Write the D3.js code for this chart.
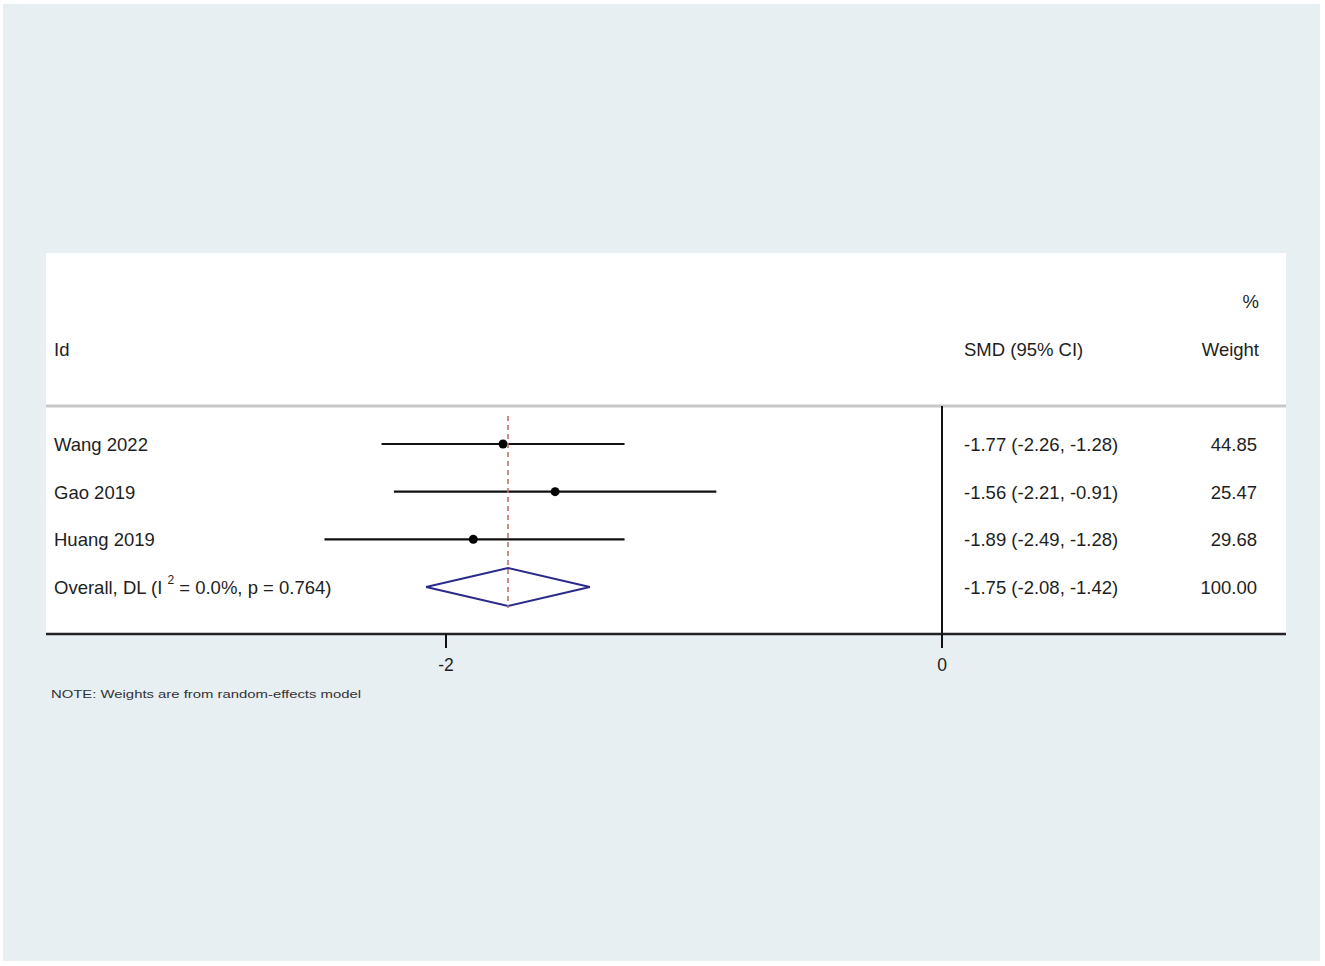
<!DOCTYPE html>
<html><head><meta charset="utf-8">
<script src="https://cdn.jsdelivr.net/npm/d3@7"></script>
<style>body{margin:0;background:#fff;} svg{display:block;font-family:"Liberation Sans",Arial,sans-serif;}</style>
</head><body>
<script>
const studies = ["Wang 2022", "Gao 2019", "Huang 2019"];
const est = [-1.77, -1.56, -1.89];
const lo = [-2.26, -2.21, -2.49];
const hi = [-1.28, -0.91, -1.28];
const ciText = ["-1.77 (-2.26, -1.28)", "-1.56 (-2.21, -0.91)", "-1.89 (-2.49, -1.28)"];
const weights = ["44.85", "25.47", "29.68"];
const overall = {est: -1.75, lo: -2.08, hi: -1.42, ci: "-1.75 (-2.08, -1.42)", w: "100.00"};
const xTicks = [-2, 0];

const W = 1325, H = 966;
const svg = d3.select("body").append("svg").attr("width", W).attr("height", H);
svg.append("rect").attr("x",3).attr("y",4).attr("width",1317).attr("height",957).attr("fill","#e8eff2");
svg.append("rect").attr("x",46).attr("y",253).attr("width",1240).attr("height",381).attr("fill","#fff");

const x = d3.scaleLinear().domain([-2, 0]).range([446, 942]);
const rows = studies.concat(["overall"]);
const y = d3.scalePoint().domain(rows).range([444, 587]);

const fs = 18.5;
const col = "#1e1e1e";
function txt(xx, yy, s, anchor) {
  return svg.append("text").attr("x",xx).attr("y",yy).attr("font-size",fs).attr("fill",col)
    .attr("text-anchor", anchor || "start").text(s);
}
// header
txt(54, 356, "Id");
txt(964, 356, "SMD (95% CI)");
txt(1259, 356, "Weight", "end");
txt(1259, 308, "%", "end");
// separator
svg.append("line").attr("x1",46).attr("x2",1286).attr("y1",406).attr("y2",406).attr("stroke","#c8c8c8").attr("stroke-width",3);
// null line
svg.append("line").attr("x1",x(0)).attr("x2",x(0)).attr("y1",406).attr("y2",634).attr("stroke","#111").attr("stroke-width",2);

// study rows
studies.forEach((s,i)=>{
  const yy = y(s);
  txt(54, yy+7, s);
  svg.append("line").attr("x1",x(lo[i])).attr("x2",x(hi[i])).attr("y1",yy).attr("y2",yy).attr("stroke","#111").attr("stroke-width",2.2);
  svg.append("circle").attr("cx",x(est[i])).attr("cy",yy).attr("r",4.5).attr("fill","#000");
  txt(964, yy+7, ciText[i]);
  txt(1257, yy+7, weights[i], "end");
});

// overall
const yo = y("overall");
const ot = svg.append("text").attr("x",54).attr("y",yo+7).attr("font-size",fs).attr("fill",col);
ot.append("tspan").text("Overall, DL (I ");
ot.append("tspan").attr("dy",-10).attr("font-size",12).text("2");
ot.append("tspan").attr("dy",10).text(" = 0.0%, p = 0.764)");
svg.append("path").attr("d", d3.line()([[x(overall.lo),yo],[x(overall.est),yo-19],[x(overall.hi),yo],[x(overall.est),yo+19]]) + "Z")
  .attr("fill","none").attr("stroke","#2a2a8a").attr("stroke-width",2);
svg.append("line").attr("x1",x(overall.est)).attr("x2",x(overall.est)).attr("y1",416).attr("y2",608)
  .attr("stroke","#c07070").attr("stroke-width",1.6).attr("stroke-dasharray","5,4");
txt(964, yo+7, overall.ci);
txt(1257, yo+7, overall.w, "end");

// axis
svg.append("line").attr("x1",46).attr("x2",1286).attr("y1",634).attr("y2",634).attr("stroke","#222").attr("stroke-width",2.5);
const ax = svg.append("g");
xTicks.forEach(t=>{
  ax.append("line").attr("x1",x(t)).attr("x2",x(t)).attr("y1",634).attr("y2",648).attr("stroke","#111").attr("stroke-width",2);
  ax.append("text").attr("x",x(t)).attr("y",671).attr("text-anchor","middle").attr("font-size",17.5).attr("fill",col).text(String(t));
});

svg.append("text").attr("x",51).attr("y",698).attr("font-size",11.5).attr("fill","#333")
  .attr("textLength",310).attr("lengthAdjust","spacingAndGlyphs").text("NOTE: Weights are from random-effects model");
</script>
</body></html>
